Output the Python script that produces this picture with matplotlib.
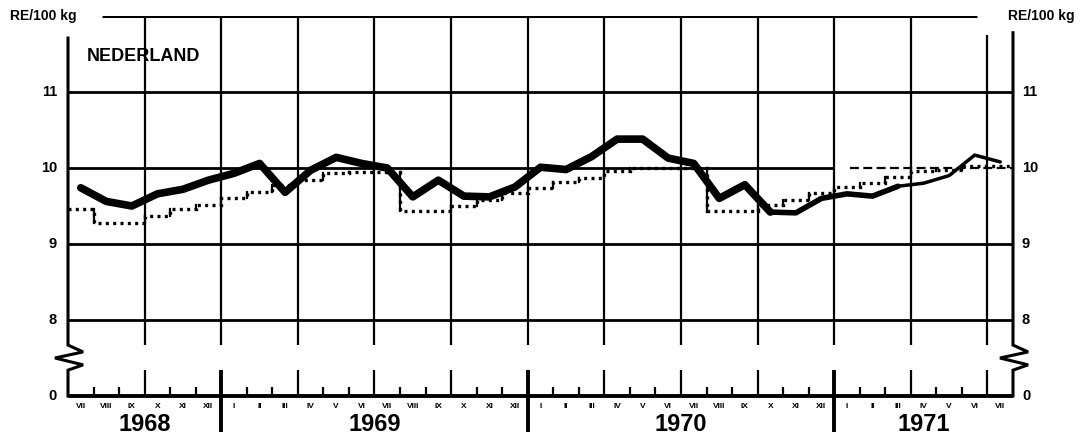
import numpy as np
import matplotlib.pyplot as plt

plt.rcParams['font.family'] = ['Liberation Sans', 'DejaVu Sans']
plt.rcParams['font.weight'] = 'bold'

# maanden juli 1968 t/m juli 1971
months = ['VII', 'VIII', 'IX', 'X', 'XI', 'XII',
          'I', 'II', 'III', 'IV', 'V', 'VI', 'VII', 'VIII', 'IX', 'X', 'XI', 'XII',
          'I', 'II', 'III', 'IV', 'V', 'VI', 'VII', 'VIII', 'IX', 'X', 'XI', 'XII',
          'I', 'II', 'III', 'IV', 'V', 'VI', 'VII']
years = ['1968', '1969', '1970', '1971']
year_start = [0, 6, 18, 30]
year_end = [6, 18, 30, 37]

# marktprijs (dikke lijn), RE/100 kg
prices = [9.74, 9.56, 9.50, 9.66, 9.72, 9.84,
          9.93, 10.06, 9.68, 9.97, 10.14, 10.06, 10.00, 9.62, 9.84, 9.63, 9.62, 9.75,
          10.01, 9.98, 10.15, 10.38, 10.38, 10.13, 10.06, 9.60, 9.78, 9.42, 9.41, 9.60,
          9.66, 9.63, 9.76, 9.80, 9.90, 10.17, 10.08]

# oriëntatieprijs (stippellijn)
guide = [9.46, 9.28, 9.28, 9.37, 9.46, 9.51,
         9.61, 9.69, 9.77, 9.84, 9.94, 9.95, 9.95, 9.43, 9.43, 9.50, 9.58, 9.67,
         9.74, 9.81, 9.87, 9.96, 10.00, 10.00, 10.00, 9.44, 9.44, 9.51, 9.58, 9.67,
         9.75, 9.80, 9.88, 9.96, 9.97, 10.02, 10.02]

yticks = [11, 10, 9, 8, 7]
ylabels = ['11', '10', '9', '8', '0']

k = 'black'
n = len(months)
x = np.arange(n) + 0.5

fig = plt.figure(figsize=(10.83, 4.36), dpi=100)
ax = fig.add_axes([68 / 1083, 40 / 436, 945 / 1083, 380 / 436])
ax.set_xlim(0, n)
ax.set_ylim(7, 12)
ax.axis('off')

# horizontale lijnen
for v in [8, 9, 11]:
    ax.plot([0, n], [v, v], color=k, lw=2, solid_capstyle='butt')
ax.plot([0, 30], [10, 10], color=k, lw=2, solid_capstyle='butt')
ax.plot([30.6, n], [10, 10], color=k, lw=1.6, linestyle=(0, (4, 2)))
ax.plot([1.33, 35.6], [12, 12], color=k, lw=2.2, solid_capstyle='butt')
ax.plot([0, n], [7, 7], color=k, lw=2.8, solid_capstyle='butt', clip_on=False)

# verticale lijnen per kwartaal, onderbroken bij de breuk
brk_hi, brk_lo = 7.67, 7.34
for m in range(3, n, 3):
    top = 12 if m < 35 else 11.75
    ax.plot([m, m], [brk_hi, top], color=k, lw=1.6, solid_capstyle='butt')
    if m % 12 == 6:
        ax.plot([m, m], [6.53, brk_lo], color=k, lw=2.8, solid_capstyle='butt', clip_on=False)
    else:
        ax.plot([m, m], [7, brk_lo], color=k, lw=1.6, solid_capstyle='butt')

# maandstreepjes
for m in range(1, n):
    if m % 3:
        ax.plot([m, m], [7, 7.12], color=k, lw=1.6, solid_capstyle='butt')

# assen met zigzag
zig_dx = np.array([0, 0.59, -0.51, 0.59, 0])
zig_y = [brk_hi, 7.58, 7.50, 7.41, brk_lo]
ax.plot(np.r_[0, zig_dx, 0], [11.71] + zig_y + [7], color=k, lw=2.2,
        solid_joinstyle='miter', clip_on=False)
ax.plot(np.r_[n, n + zig_dx, n], [11.78] + zig_y + [7], color=k, lw=2.2,
        solid_joinstyle='miter', clip_on=False)

# stippellijn met trapjes
ax.stairs(guide, np.arange(n + 1), baseline=None, color=k, lw=2.4,
          linestyle=(0, (0.9, 1.3)))
for m in range(1, n):
    if guide[m] != guide[m - 1]:
        ax.plot([m, m], [guide[m - 1], guide[m]], color=k, lw=1.6)

# marktprijs
ax.plot(x[:28], prices[:28], color=k, lw=5.5, solid_capstyle='round', solid_joinstyle='round')
ax.plot(x[27:33], prices[27:33], color=k, lw=4, solid_capstyle='round', solid_joinstyle='round')
ax.plot(x[32:], prices[32:], color=k, lw=2.5, solid_capstyle='round', solid_joinstyle='round')

# labels
for i, name in enumerate(months):
    ax.text(i + 0.5, 6.86, name, ha='center', va='center', fontsize=6)
for yr, a, b in zip(years, year_start, year_end):
    ax.text((a + b) / 2, 6.62, yr, ha='center', va='center', fontsize=17)
for v, lab in zip(yticks, ylabels):
    ax.text(-0.43, v, lab, ha='right', va='center', fontsize=10.5)
    ax.text(n + 0.35, v, lab, ha='left', va='center', fontsize=10.5)

ax.text(-2.27, 12, 'RE/100 kg', ha='left', va='center', fontsize=10)
ax.text(39.43, 12, 'RE/100 kg', ha='right', va='center', fontsize=10)
ax.text(0.74, 11.47, 'NEDERLAND', ha='left', va='center', fontsize=13)

plt.savefig('out.png', dpi=100)
